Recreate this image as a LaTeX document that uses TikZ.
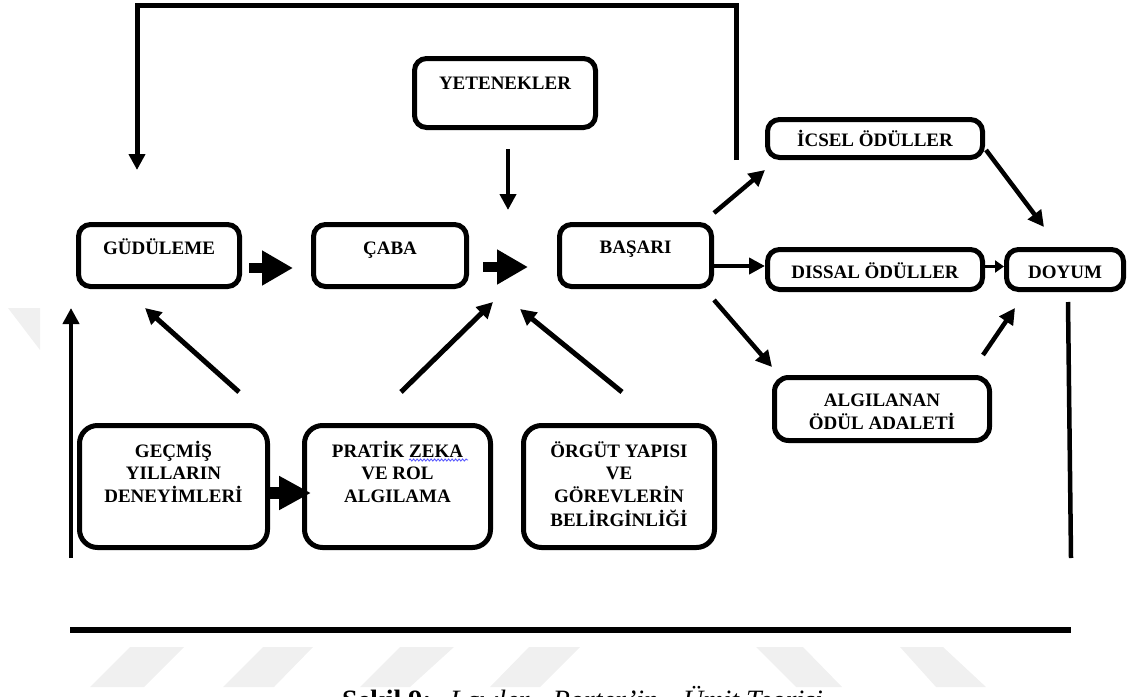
\documentclass[tikz,border=0pt]{standalone}
\usepackage{fontspec}
\setmainfont{Liberation Serif}
\usetikzlibrary{arrows.meta,decorations.pathmorphing}

\newcommand\boxfont{\fontsize{19}{22.5}\selectfont\bfseries}
\newcommand\capfont{\fontsize{28}{32}\selectfont}

\tikzset{
  x=1pt, y=1pt,
  box/.style={draw, line width=5pt, rounded corners=12pt, inner sep=0pt},
  bigbox/.style={box, rounded corners=18pt},
  lbl/.style={font=\boxfont, inner sep=0pt, anchor=base},
  arr/.style={line width=4.5pt, -{Triangle[length=16pt,width=16pt]}},
  smallarr/.style={line width=3pt, -{Triangle[length=9pt,width=12pt]}},
  blockarr/.style={line width=10pt, -{Triangle[length=31pt,width=33pt]}},
  blockarrb/.style={line width=12pt, -{Triangle[length=32pt,width=32pt]}},
  plain/.style={line width=4.5pt},
  wm/.style={fill=black!6},
  spell/.style={draw=blue!65, line width=0.9pt, decorate,
    decoration={snake, amplitude=1pt, segment length=3.5pt}},
  captxt/.style={font=\capfont, inner sep=0pt, anchor=base west}
}

\begin{document}
\begin{tikzpicture}
\useasboundingbox (0,0) rectangle (1129,-696);
\clip (0,0) rectangle (1129,-696);

% faint background marks
\path[wm] (130,-647) -- (184,-647) -- (144,-687) -- (90,-687) -- cycle;
\path[wm] (263,-647) -- (313,-647) -- (274,-687) -- (223,-687) -- cycle;
\path[wm] (400,-647) -- (454,-647) -- (410,-687) -- (360,-687) -- cycle;
\path[wm] (529,-647) -- (580,-647) -- (540,-687) -- (490,-687) -- cycle;
\path[wm] (756,-647) -- (803,-647) -- (842,-687) -- (796,-687) -- cycle;
\path[wm] (900,-647) -- (943,-647) -- (986,-687) -- (936,-687) -- cycle;
\path[wm] (8,-308) -- (40,-308) -- (40,-350) -- cycle;

% boxes
\node[box, minimum width=181, minimum height=69] (yet) at (505,-93) {};
\node[box, minimum width=161, minimum height=62] (gud) at (159,-255.5) {};
\node[box, minimum width=153, minimum height=62] (caba) at (390,-255.5) {};
\node[box, minimum width=152, minimum height=62] (bas) at (635.5,-255.5) {};
\node[box, minimum width=215, minimum height=38] (icsel) at (875,-138.5) {};
\node[box, minimum width=215, minimum height=40] (dissal) at (875,-269.5) {};
\node[box, minimum width=117, minimum height=40] (doyum) at (1065,-269.5) {};
\node[box, rounded corners=14pt, minimum width=215, minimum height=63] (algi) at (882,-409) {};
\node[bigbox, minimum width=188, minimum height=122] (gec) at (173.5,-486.5) {};
\node[bigbox, minimum width=186, minimum height=122] (pratik) at (397.5,-486.5) {};
\node[bigbox, minimum width=191, minimum height=122] (orgut) at (619,-486.5) {};

% box texts
\node[lbl] (yett) at ([yshift=-33.3pt]yet.north) {YETENEKLER};
\node[lbl] (gudt) at ([yshift=-32.3pt]gud.north) {GÜDÜLEME};
\node[lbl] (cabat) at ([yshift=-32.3pt]caba.north) {ÇABA};
\node[lbl] (bast) at ([yshift=-31.5pt]bas.north) {BAŞARI};
\node[lbl] (icselt) at ([yshift=-29.3pt]icsel.north) {İCSEL ÖDÜLLER};
\node[lbl] (dissalt) at ([yshift=-31.3pt]dissal.north) {DISSAL ÖDÜLLER};
\node[lbl] (doyumt) at ([yshift=-31.3pt]doyum.north) {DOYUM};
\node[lbl] (algit) at ([yshift=-31.3pt]algi.north)
  {\begin{tabular}[t]{@{}c@{}}ALGILANAN\\ÖDÜL ADALETİ\end{tabular}};
\node[lbl] (gect) at ([yshift=-34.3pt]gec.north)
  {\begin{tabular}[t]{@{}c@{}}GEÇMİŞ\\YILLARIN\\DENEYİMLERİ\end{tabular}};
\node[lbl] (pratikt) at ([yshift=-34.3pt]pratik.north)
  {\begin{tabular}[t]{@{}c@{}}PRATİK ZEKA\\VE ROL\\ALGILAMA\end{tabular}};
\node[lbl] (orgutt) at ([yshift=-34.3pt]orgut.north)
  {\begin{tabular}[t]{@{}c@{}}ÖRGÜT YAPISI\\VE\\GÖREVLERİN\\BELİRGİNLİĞİ\end{tabular}};

% spelling underline below ZEKA
\path[spell] (409,-460) -- (468,-460);

% free ends of connectors
\coordinate (fbs) at (736,-160);
\coordinate (fbe) at (137,-170);
\coordinate (top) at (0,-5);
\coordinate (yetTip) at (508,-210);
\coordinate (cabTip) at (528,-267);
\coordinate (pratTip) at (493,-302);
\coordinate (orgTip) at (520,-309);
\coordinate (lvb) at (71,-558);
\coordinate (lvt) at (71,-308);
\coordinate (rvt) at (1068,-302);
\coordinate (rvb) at (1071,-558);
\coordinate (bl) at (70,-630);
\coordinate (br) at (1071,-630);

% feedback loop over the top
\draw[arr, line width=5pt] (fbs) |- (top -| fbe) -- (fbe);

% block arrows
\draw[blockarr, shorten <=7pt, shorten >=18pt]
  ([yshift=-12.5pt]gud.east) -- ([yshift=-12.5pt]caba.west);
\draw[blockarr, shorten <=14pt] ([yshift=-11.5pt]caba.east) -- (cabTip);
\draw[blockarrb, shorten <=-2pt, shorten >=-9pt]
  ([yshift=-6.5pt]gec.east) -- ([yshift=-6.5pt]pratik.west);

% arrows into the centre
\draw[arr] ([xshift=3pt,yshift=-19pt]yet.south) -- (yetTip);
\draw[arr, line width=5pt] ([shift={(65.5pt,31pt)}]gec.north) -- ([shift={(-14pt,-19pt)}]gud.south);
\draw[arr, line width=5pt] ([shift={(3.5pt,31pt)}]pratik.north) -- (pratTip);
\draw[arr, line width=5pt] ([shift={(3pt,31pt)}]orgut.north) -- (orgTip);

% arrows from BAŞARI and towards DOYUM
\draw[arr] ([yshift=9pt]bas.north east) -- ([yshift=-10pt]icsel.south west);
\draw[arr] ([yshift=-10.5pt]bas.east) -- ([yshift=3.5pt]dissal.west);
\draw[arr] ([yshift=-11pt]bas.south east) -- ([yshift=8pt]algi.north west);
\draw[arr] ([shift={(1pt,-11.5pt)}]icsel.east) -- ([shift={(-21pt,20pt)}]doyum.north);
\draw[smallarr] ([yshift=3pt]dissal.east) -- ([yshift=3pt]doyum.west);
\draw[arr] ([shift={(-9pt,20pt)}]algi.north east) -- ([shift={(11pt,-16pt)}]doyum.south west);

% side and bottom lines
\draw[arr] (lvb) -- (lvt);
\draw[plain] (rvt) -- (rvb);
\draw[line width=6pt] (bl) -- (br);

% caption, running past the lower edge
\node[captxt] (cap1) at (342,-709) {\textbf{Şekil 9:}};
\node[captxt] (cap2) at (450,-709) {\textit{Lawler - Porter'in}};
\node[captxt] (cap3) at (683,-709) {\textit{Ümit Teorisi}};
\end{tikzpicture}
\end{document}
